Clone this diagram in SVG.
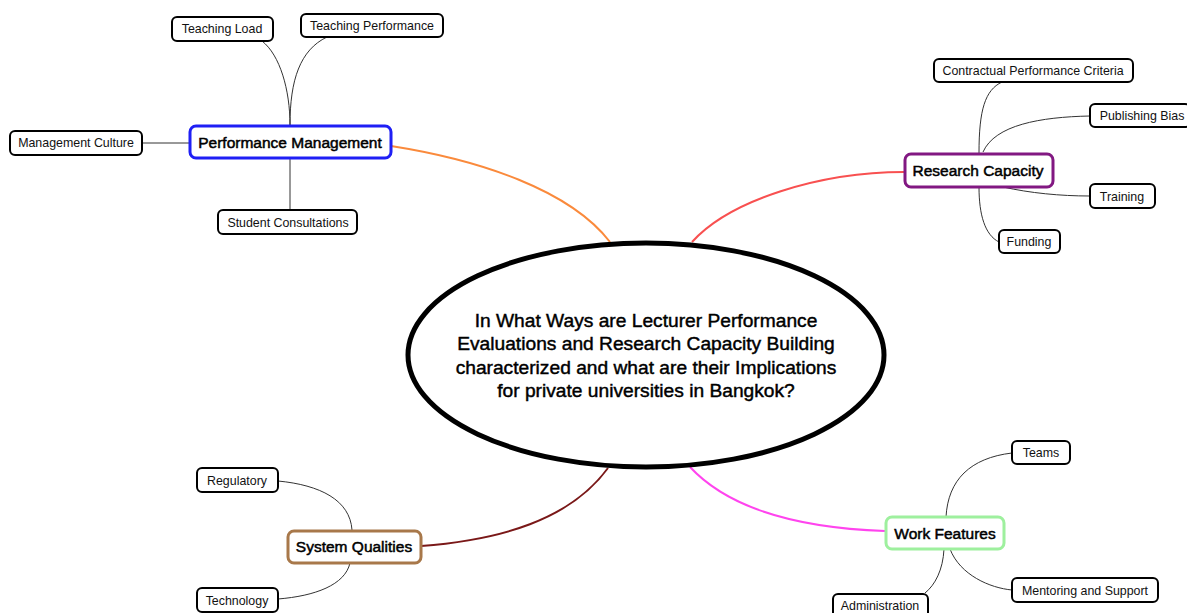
<svg xmlns="http://www.w3.org/2000/svg" width="1187" height="613" viewBox="0 0 1187 613">
<style>
.leaf rect{fill:#fff;stroke:#000;stroke-width:2}
.leaf text{font-family:"Liberation Sans",Arial,sans-serif;font-size:12.4px;fill:#111;text-anchor:middle}
.main rect{fill:#fff;stroke-width:3}
.main text{font-family:"Liberation Sans",Arial,sans-serif;font-size:15.5px;fill:#000;stroke:#000;stroke-width:0.5;text-anchor:middle}
.sub{fill:none;stroke:#333;stroke-width:1}
.branch{fill:none;stroke-width:2}
.center text{font-family:"Liberation Sans",Arial,sans-serif;font-size:19.2px;fill:#000;stroke:#000;stroke-width:0.45;text-anchor:middle}
</style>
<rect width="1187" height="613" fill="#fff"/>
<g id="connectors">
<path class="branch" stroke="#fa8a3c" d="M391,146 C480,160 570,190 610,242"/>
<path class="branch" stroke="#f85050" d="M692,242 C730,200 820,172 904,172"/>
<path class="branch" stroke="#7a1818" d="M608,468 C570,520 500,540 421,546"/>
<path class="branch" stroke="#ff44ee" d="M690,467 C730,510 800,528 885,531"/>
<path class="sub" d="M290,125 C290,90 280,55 262,41"/>
<path class="sub" d="M290,125 C290,80 300,50 327,37"/>
<path class="sub" d="M142,143 L190,143"/>
<path class="sub" d="M290,158 L290,210"/>
<path class="sub" d="M979,153 C979,110 985,90 1002,82"/>
<path class="sub" d="M983,152 C995,125 1040,117 1090,116"/>
<path class="sub" d="M1003,187 C1030,193 1060,196 1090,196"/>
<path class="sub" d="M979,187 C979,215 985,235 999,242"/>
<path class="sub" d="M352,530 C350,500 320,485 278,481"/>
<path class="sub" d="M350,563 C345,585 315,596 278,599"/>
<path class="sub" d="M946,517 C948,480 970,458 1012,453"/>
<path class="sub" d="M950,549 C960,575 990,588 1012,590"/>
<path class="sub" d="M944,549 C943,570 935,585 925,593"/>
</g>
<g id="center" class="center">
<ellipse cx="646" cy="355" rx="238" ry="112" fill="#fff" stroke="#000" stroke-width="5"/>
<text x="646" y="327">In What Ways are Lecturer Performance</text>
<text x="646" y="350">Evaluations and Research Capacity Building</text>
<text x="646" y="374">characterized and what are their Implications</text>
<text x="646" y="397">for private universities in Bangkok?</text>
</g>
<g id="performance-management" class="main"><rect x="190" y="126" width="201" height="32" rx="6" stroke="#1f1ff5"/><text x="290" y="148">Performance Management</text></g>
<g id="research-capacity" class="main"><rect x="905" y="154" width="148" height="33" rx="6" stroke="#821882"/><text x="978" y="176">Research Capacity</text></g>
<g id="system-qualities" class="main"><rect x="288" y="531" width="133" height="32" rx="6" stroke="#a8784a"/><text x="354" y="552">System Qualities</text></g>
<g id="work-features" class="main"><rect x="886" y="517" width="118" height="32" rx="6" stroke="#9ef09e"/><text x="945" y="539">Work Features</text></g>
<g id="teaching-load" class="leaf"><rect x="172" y="17" width="101" height="24" rx="5"/><text x="222" y="33">Teaching Load</text></g>
<g id="teaching-performance" class="leaf"><rect x="301" y="14" width="142" height="23" rx="5"/><text x="372" y="30">Teaching Performance</text></g>
<g id="management-culture" class="leaf"><rect x="10" y="131" width="132" height="24" rx="5"/><text x="76" y="147">Management Culture</text></g>
<g id="student-consultations" class="leaf"><rect x="218" y="210" width="139" height="24" rx="5"/><text x="288" y="227">Student Consultations</text></g>
<g id="contractual-performance-criteria" class="leaf"><rect x="934" y="59" width="199" height="23" rx="5"/><text x="1033" y="75">Contractual Performance Criteria</text></g>
<g id="publishing-bias" class="leaf"><rect x="1090" y="104" width="100" height="23" rx="5"/><text x="1142" y="120">Publishing Bias</text></g>
<g id="training" class="leaf"><rect x="1090" y="184" width="65" height="24" rx="5"/><text x="1122" y="201">Training</text></g>
<g id="funding" class="leaf"><rect x="999" y="230" width="61" height="23" rx="5"/><text x="1029" y="246">Funding</text></g>
<g id="regulatory" class="leaf"><rect x="197" y="468" width="81" height="24" rx="5"/><text x="237" y="485">Regulatory</text></g>
<g id="technology" class="leaf"><rect x="197" y="588" width="81" height="24" rx="5"/><text x="237" y="605">Technology</text></g>
<g id="teams" class="leaf"><rect x="1012" y="441" width="58" height="23" rx="5"/><text x="1041" y="457">Teams</text></g>
<g id="mentoring-and-support" class="leaf"><rect x="1012" y="578" width="146" height="24" rx="5"/><text x="1085" y="595">Mentoring and Support</text></g>
<g id="administration" class="leaf"><rect x="833" y="594" width="95" height="24" rx="5"/><text x="880" y="610">Administration</text></g>
</svg>
